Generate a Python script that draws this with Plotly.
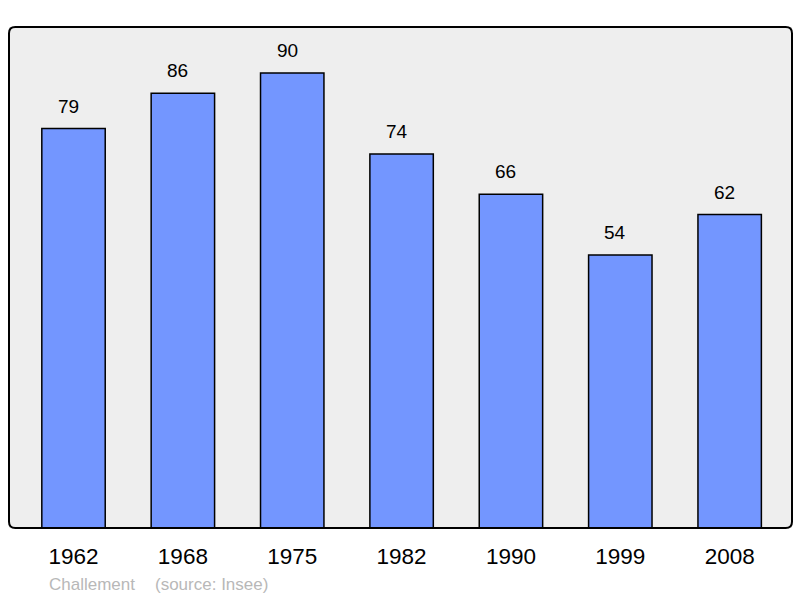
import plotly.graph_objects as go

years = ["1962", "1968", "1975", "1982", "1990", "1999", "2008"]
population = [79, 86, 90, 74, 66, 54, 62]
footer_name = "Challement"
footer_source = "(source: Insee)"

fig = go.Figure()
fig.add_trace(go.Bar(
    x=list(range(len(years))), y=population,
    width=0.58,
    marker=dict(color="#7396ff", line=dict(color="#000000", width=1.5)),
    hoverinfo="skip",
))
for i, v in enumerate(population):
    fig.add_annotation(x=i, y=v, text=str(v), showarrow=False,
                       yanchor="bottom", yshift=10, xshift=-5,
                       font=dict(size=19, color="#000000", family="Liberation Sans"))

# rounded border
r = 0.008
ry = r * 783 / 501
path = (f"M {r},0 L {1-r},0 Q 1,0 1,{ry} L 1,{1-ry} Q 1,1 {1-r},1 "
        f"L {r},1 Q 0,1 0,{1-ry} L 0,{ry} Q 0,0 {r},0 Z")
fig.add_shape(type="path", path=path, xref="paper", yref="paper",
              line=dict(color="#000000", width=2), layer="above")

fig.add_annotation(x=(47 - 9) / 783, y=-(584 - 528) / 501, xref="paper", yref="paper",
                   text=footer_name, showarrow=False, xanchor="left", yanchor="middle",
                   font=dict(size=17, color="#b8b8b8", family="Liberation Sans"))
fig.add_annotation(x=(153 - 9) / 783, y=-(584 - 528) / 501, xref="paper", yref="paper",
                   text=footer_source, showarrow=False, xanchor="left", yanchor="middle",
                   font=dict(size=17, color="#b8b8b8", family="Liberation Sans"))

fig.update_layout(
    width=800, height=598,
    margin=dict(l=9, r=8, t=27, b=70),
    paper_bgcolor="#ffffff", plot_bgcolor="#eeeeee",
    showlegend=False,
    font=dict(family="Liberation Sans", color="#000000"),
    xaxis=dict(tickmode="array", tickvals=list(range(len(years))), ticktext=years,
               range=[-0.59, 6.57], showgrid=False, zeroline=False, ticks="",
               tickfont=dict(size=22.5), ticklabelstandoff=12, fixedrange=True),
    yaxis=dict(range=[0, 99.1], showgrid=False, zeroline=False, showticklabels=False,
               ticks="", fixedrange=True),
)
fig.write_html("out.html", config={"displayModeBar": False},
               post_script="document.body.style.margin='0';document.body.style.padding='0';")
